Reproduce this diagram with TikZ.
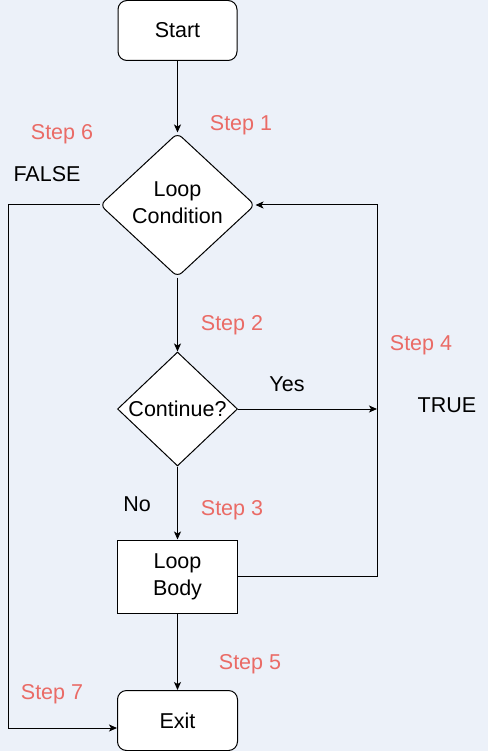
\documentclass[tikz,border=0pt]{standalone}
\usepackage{fontspec}
\setmainfont{Liberation Sans}
\usetikzlibrary{shapes.geometric,arrows.meta}
\definecolor{bgc}{RGB}{236,241,249}
\definecolor{stepred}{RGB}{234,107,102}
\tikzset{
  txt/.style={font=\fontsize{21.5}{27}\selectfont},
  box/.style={draw=black, fill=white, line width=1pt, txt, inner sep=0pt, align=center},
  rbox/.style={box, rounded corners=9pt},
  dia/.style={draw=black, fill=white, line width=1pt, txt, diamond, inner sep=0pt},
  arr/.style={draw=black, line width=1pt, -{Stealth[length=8pt,width=7pt,inset=2pt]}},
  steplbl/.style={txt, text=stepred},
  lbl/.style={txt, text=black}
}
\begin{document}
\begin{tikzpicture}[x=1pt,y=-1pt]
\useasboundingbox[fill=bgc] (0,0) rectangle (488,751);
\node[rbox, minimum width=119pt, minimum height=60pt] (start) at (177.5,30.5) {Start};
\node[dia, rounded corners=6pt, minimum width=155pt, minimum height=144pt] (cond) at (177.5,205)
  {\makebox[0pt]{\begin{tabular}{@{}c@{}}Loop\\Condition\end{tabular}}};
\node[dia, minimum width=120pt, minimum height=114pt] (cont) at (177.5,409) {\makebox[0pt]{Continue?}};
\node[box, minimum width=120pt, minimum height=73pt] (body) at (177.5,576.5) {Loop\\Body};
\node[rbox, minimum width=120pt, minimum height=60pt] (exit) at (177.5,720.5) {Exit};

\coordinate (tr) at (377,205);
\coordinate (br) at (377,576.5);
\coordinate (fl) at (8,205);
\coordinate (bl) at (8,728);

\draw[arr] (start.south) -- (cond.north);
\draw[arr] (cond.south) -- (cont.north);
\draw[arr] (cont.east) -- (cont.east -| tr);
\draw[arr] (cont.south) -- (body.north);
\draw[arr] (body.south) -- (exit.north);
\draw[arr] (body.east) -- (br) -- (tr) -- (cond.east);
\draw[arr] (cond.west) -- (fl) -- (bl) -- (bl -| exit.west);

\node[steplbl] (s1) at (241,125) {Step 1};
\node[steplbl] (s6) at (62,134) {Step 6};
\node[lbl] (false) at (47,174) {FALSE};
\node[steplbl] (s2) at (232,325) {Step 2};
\node[steplbl] (s4) at (421,345) {Step 4};
\node[lbl] (yes) at (287,384) {Yes};
\node[lbl] (true) at (447,405) {TRUE};
\node[lbl] (no) at (137,504) {No};
\node[steplbl] (s3) at (232,510) {Step 3};
\node[steplbl] (s5) at (250,664) {Step 5};
\node[steplbl] (s7) at (52,694) {Step 7};
\end{tikzpicture}
\end{document}
